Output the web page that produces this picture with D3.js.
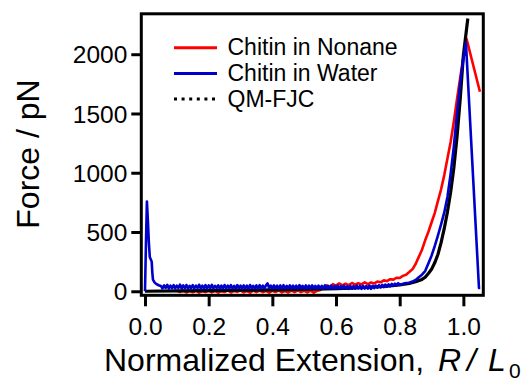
<!DOCTYPE html>
<html>
<head>
<meta charset="utf-8">
<script src="https://cdn.jsdelivr.net/npm/d3@7"></script>
<style>
  html, body { margin: 0; padding: 0; background: #fff; }
  svg { display: block; font-family: "Liberation Sans", Arial, Helvetica, sans-serif; }
</style>
</head>
<body>
<svg id="chart" width="523" height="378"></svg>
<script>
// Force–extension curves of a chitin chain, normalized extension R/L0 vs force (pN)

const xTicks = [0.0, 0.2, 0.4, 0.6, 0.8, 1.0];
const yTicks = [0, 500, 1000, 1500, 2000];

const seriesNames = ["Chitin in Nonane", "Chitin in Water", "QM-FJC"];

// Chitin in nonane: [R/L0, force pN]
const nonane = [
  [0.10, 4], [0.11, -6], [0.12, 6], [0.13, -10], [0.14, 3], [0.15, -8], [0.16, 5], [0.17, -11],
  [0.18, 2], [0.19, -7], [0.20, 6], [0.21, -9], [0.22, 4], [0.23, -12], [0.24, 1], [0.25, -6],
  [0.26, 7], [0.27, -10], [0.28, 3], [0.29, -5], [0.30, 8], [0.31, -9], [0.32, 2], [0.33, -12],
  [0.34, 5], [0.35, -7], [0.36, 6], [0.37, -8], [0.38, 3], [0.39, -11], [0.40, 4], [0.41, -6],
  [0.42, 7], [0.43, -9], [0.44, 2], [0.45, -10], [0.46, 5], [0.47, -7], [0.48, 8], [0.49, -6],
  [0.50, 4], [0.51, -9], [0.52, 6], [0.53, -12], [0.54, 3], [0.55, 10], [0.56, 30], [0.57, 50],
  [0.58, 38], [0.59, 60], [0.60, 48], [0.61, 66], [0.62, 50], [0.63, 64], [0.64, 52], [0.65, 70],
  [0.66, 55], [0.67, 68], [0.68, 58], [0.69, 75], [0.70, 60], [0.71, 74], [0.72, 66], [0.73, 82],
  [0.74, 76], [0.75, 92], [0.76, 86], [0.77, 102], [0.78, 98], [0.79, 114], [0.80, 112], [0.81, 130],
  [0.82, 140], [0.83, 162], [0.84, 185], [0.85, 230], [0.86, 290], [0.87, 350], [0.88, 430],
  [0.89, 500], [0.90, 580], [0.91, 660], [0.92, 760], [0.93, 860], [0.94, 980], [0.95, 1120],
  [0.96, 1260], [0.97, 1430], [0.98, 1620], [0.99, 1800], [1.00, 1980], [1.010, 2130], [1.052, 1683]
];

// Chitin in water: [R/L0, force pN]
const water = [
  [0.000, 0], [0.003, 400], [0.006, 758], [0.009, 600], [0.012, 420], [0.015, 290], [0.018, 270],
  [0.021, 250], [0.023, 160], [0.025, 98], [0.030, 75], [0.035, 62], [0.040, 55], [0.045, 48],
  [0.05, 44], [0.055, 24], [0.06, 50], [0.065, 28], [0.07, 54], [0.075, 22], [0.08, 48], [0.085, 26],
  [0.09, 52], [0.095, 24], [0.10, 47], [0.105, 28], [0.11, 56], [0.115, 23], [0.12, 49], [0.125, 27],
  [0.13, 53], [0.135, 22], [0.14, 46], [0.145, 26], [0.15, 51], [0.155, 24], [0.16, 48], [0.165, 27],
  [0.17, 55], [0.175, 23], [0.18, 47], [0.185, 25], [0.19, 52], [0.195, 22], [0.20, 49], [0.205, 26],
  [0.21, 54], [0.215, 24], [0.22, 46], [0.225, 27], [0.23, 50], [0.235, 22], [0.24, 47], [0.245, 25],
  [0.25, 53], [0.255, 23], [0.26, 48], [0.265, 26], [0.27, 51], [0.275, 24], [0.28, 46], [0.285, 22],
  [0.29, 52], [0.295, 27], [0.30, 48], [0.305, 23], [0.31, 50], [0.315, 25], [0.32, 47], [0.325, 22],
  [0.33, 53], [0.335, 26], [0.34, 46], [0.345, 24], [0.35, 49], [0.355, 22], [0.36, 51], [0.365, 27],
  [0.37, 47], [0.375, 23], [0.38, 50], [0.385, 66], [0.39, 28], [0.395, 48], [0.40, 24], [0.405, 50],
  [0.41, 26], [0.415, 47], [0.42, 22], [0.425, 49], [0.43, 25], [0.435, 51], [0.44, 23], [0.445, 46],
  [0.45, 26], [0.455, 50], [0.46, 22], [0.465, 48], [0.47, 25], [0.475, 47], [0.48, 23], [0.485, 51],
  [0.49, 26], [0.495, 46], [0.50, 22], [0.505, 49], [0.51, 25], [0.515, 47], [0.52, 23], [0.525, 50],
  [0.53, 24], [0.535, 46], [0.54, 22], [0.545, 48], [0.55, 26], [0.555, 45], [0.56, 23], [0.565, 49],
  [0.57, 25], [0.575, 46], [0.58, 22], [0.585, 47], [0.59, 24], [0.595, 45], [0.60, 21], [0.605, 48],
  [0.61, 24], [0.615, 44], [0.62, 22], [0.625, 47], [0.63, 25], [0.635, 43], [0.64, 21], [0.645, 46],
  [0.65, 23], [0.655, 44], [0.66, 22], [0.665, 47], [0.67, 24], [0.675, 45], [0.68, 21], [0.685, 46],
  [0.69, 23], [0.695, 44], [0.70, 22], [0.705, 47], [0.71, 20], [0.715, 46], [0.72, 27], [0.725, 48],
  [0.73, 30], [0.735, 52], [0.74, 32], [0.745, 54], [0.75, 35], [0.755, 57], [0.76, 38], [0.765, 58],
  [0.77, 42], [0.775, 62], [0.78, 46], [0.785, 64], [0.79, 50], [0.795, 68], [0.80, 55], [0.81, 62],
  [0.82, 70], [0.83, 72], [0.84, 82], [0.85, 96], [0.86, 118], [0.87, 140], [0.88, 170],
  [0.89, 235], [0.90, 300], [0.91, 380], [0.92, 470], [0.93, 565], [0.94, 665], [0.95, 795],
  [0.96, 990], [0.97, 1220], [0.98, 1500], [0.99, 1760], [1.00, 1960], [1.008, 2100], [1.049, 29], [1.053, 29]
];

// QM-FJC model curve: [R/L0, force pN]
const qmfjc = [
  [0.00, 0], [0.10, 3], [0.20, 6], [0.30, 9], [0.40, 12], [0.50, 16], [0.60, 22], [0.65, 27],
  [0.70, 34], [0.75, 42], [0.80, 54], [0.83, 66], [0.85, 80], [0.87, 100], [0.88, 118],
  [0.89, 150], [0.90, 185], [0.91, 240], [0.92, 310], [0.93, 410], [0.94, 530], [0.95, 670],
  [0.96, 835], [0.97, 1040], [0.98, 1300], [0.99, 1620], [1.00, 1990], [1.014, 2301]
];

const colors = { nonane: "#ff0000", water: "#0000cc", fjc: "#000000" };

const svg = d3.select("#chart");
const frame = { left: 141.3, right: 483.3, top: 13.8, bottom: 295.3 };

const x = d3.scaleLinear().domain([-0.0116, 1.0626]).range([frame.left, frame.right]);
const y = d3.scaleLinear().domain([-34, 2341]).range([frame.bottom, frame.top]);

const line = d3.line().x(d => x(d[0])).y(d => y(d[1]));

// Data curves
svg.append("path").datum(nonane).attr("d", line)
  .attr("fill", "none").attr("stroke", colors.nonane).attr("stroke-width", 2.6)
  .attr("stroke-linejoin", "round");
svg.append("path").datum(qmfjc).attr("d", line)
  .attr("fill", "none").attr("stroke", colors.fjc).attr("stroke-width", 3.2)
  .attr("stroke-linejoin", "round");
svg.append("path").datum(water).attr("d", line)
  .attr("fill", "none").attr("stroke", colors.water).attr("stroke-width", 2.6)
  .attr("stroke-linejoin", "round");

// Plot frame
svg.append("rect")
  .attr("x", frame.left).attr("y", frame.top)
  .attr("width", frame.right - frame.left).attr("height", frame.bottom - frame.top)
  .attr("fill", "none").attr("stroke", "#000").attr("stroke-width", 3);

// Axes
const yAxis = svg.append("g")
  .attr("transform", `translate(${frame.left},0)`)
  .call(d3.axisLeft(y).tickValues(yTicks).tickSize(10).tickSizeOuter(0).tickPadding(4)
    .tickFormat(d3.format("d")));
const xAxis = svg.append("g")
  .attr("transform", `translate(0,${frame.bottom})`)
  .call(d3.axisBottom(x).tickValues(xTicks).tickSize(11).tickSizeOuter(0).tickPadding(5)
    .tickFormat(d3.format(".1f")));

[yAxis, xAxis].forEach(g => {
  g.select(".domain").remove();
  g.selectAll(".tick line").attr("stroke", "#000").attr("stroke-width", 3);
  g.selectAll(".tick text").attr("fill", "#000").attr("font-size", 24.5)
    .attr("font-family", "Liberation Sans, Arial, sans-serif");
});
yAxis.selectAll(".tick text").attr("dy", "0.35em");
xAxis.selectAll(".tick text").attr("y", 0).attr("dy", 0).attr("transform", "translate(0,39.7)");

// Axis titles
svg.append("text")
  .attr("transform", "translate(38.5,154) rotate(-90)")
  .attr("text-anchor", "middle").attr("font-size", 32).attr("fill", "#000")
  .text("Force / pN");

const xt = svg.append("text")
  .attr("x", 104).attr("y", 370.5).attr("font-size", 32).attr("fill", "#000");
xt.append("tspan").text("Normalized Extension,");
xt.append("tspan").attr("x", 438).attr("font-style", "italic").text("R");
xt.append("tspan").attr("x", 467).attr("font-style", "italic").text("/");
xt.append("tspan").attr("x", 488).attr("font-style", "italic").text("L");
xt.append("tspan").attr("x", 509).attr("font-size", 21).attr("dy", 7).text("0");

// Legend
const legendRows = [
  { name: seriesNames[0], color: colors.nonane, dash: null },
  { name: seriesNames[1], color: colors.water, dash: null },
  { name: seriesNames[2], color: colors.fjc, dash: "3,4.6" }
];
const legend = svg.append("g");
legendRows.forEach((r, i) => {
  const ly = 47.7 + i * 25.7;
  legend.append("line")
    .attr("x1", 174).attr("x2", 217).attr("y1", ly).attr("y2", ly)
    .attr("stroke", r.color).attr("stroke-width", 3)
    .attr("stroke-dasharray", r.dash);
  legend.append("text")
    .attr("x", 227.5).attr("y", ly + 7.5)
    .attr("font-size", 23).attr("fill", "#000")
    .text(r.name);
});
</script>
</body>
</html>
